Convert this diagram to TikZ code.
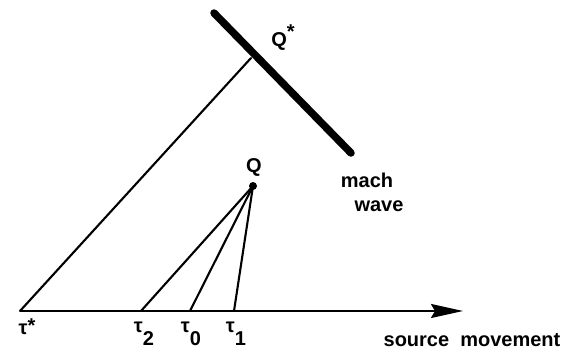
\documentclass[tikz,border=0pt]{standalone}
\usepackage{fontspec}
\setmainfont{Liberation Sans}
\usepackage{tikz}
\usetikzlibrary{arrows.meta,positioning}
\tikzset{
  lbl/.style={inner sep=0pt,font=\fontsize{20}{22}\selectfont\bfseries},
  ray/.style={line width=2.1pt,line cap=round},
  machline/.style={line width=7.5pt,line cap=round},
  axisline/.style={line width=2.2pt,-{Stealth[length=32pt,width=14pt,inset=4pt]}},
}

\begin{document}
\begin{tikzpicture}[x=1pt,y=-1pt]
  \useasboundingbox (0,0) rectangle (565,356);
  % points on the path of the source
  \coordinate (tstar) at (20,311);
  \coordinate (t2)    at (141,311);
  \coordinate (t0)    at (190,311);
  \coordinate (t1)    at (234,311);
  \coordinate (axend) at (463,311);
  % observer points
  \coordinate (Q)     at (253,186);
  \coordinate (Qstar) at (251,58);
  % ends of the mach wave
  \coordinate (machA) at (214,13);
  \coordinate (machB) at (351,153);

  \draw[axisline] (tstar) -- (axend);
  \draw[machline] (machA) -- (machB);
  \draw[ray] (tstar) -- (Qstar);
  \draw[ray] (t2) -- (Q);
  \draw[ray] (t0) -- (Q);
  \draw[ray] (t1) -- (Q);
  \fill (Q) circle (4pt);

  % labels
  \node (lQs)  [lbl] at (283,38) {Q\raisebox{0.4em}{*}};
  \node (lQ)   [lbl] at (254,167) {Q};
  \node (lmach)[lbl] at (367,180) {mach};
  \node (lwave)[lbl] at (379,206) {wave};
  \node (lts)  [lbl] at (27,327) {τ\raisebox{0.1em}{*}};
  \node (lt2)  [lbl] at (144,334) {τ\raisebox{-0.65em}{2}};
  \node (lt0)  [lbl] at (191,334) {τ\raisebox{-0.65em}{0}};
  \node (lt1)  [lbl] at (236,334) {τ\raisebox{-0.65em}{1}};
  \node (lsrc) [lbl] at (472,340) {source\ \ movement};
\end{tikzpicture}
\end{document}
